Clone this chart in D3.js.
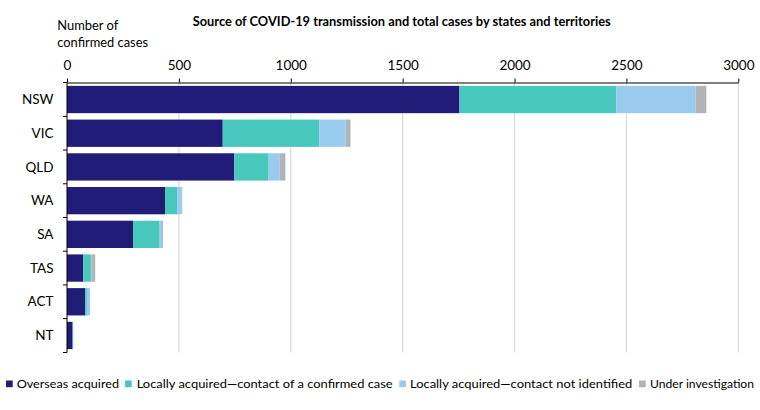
<!DOCTYPE html>
<html>
<head>
<meta charset="utf-8">
<script src="https://cdn.jsdelivr.net/npm/d3@7"></script>
<style>
  html, body { margin: 0; padding: 0; background: #fff; }
  svg { display: block; }
  text { font-family: Lato, "Open Sans", "DejaVu Sans", sans-serif; fill: #000; }
</style>
</head>
<body>
<svg id="chart" width="760" height="410"></svg>
<script>
const categories = ["NSW", "VIC", "QLD", "WA", "SA", "TAS", "ACT", "NT"];
const overseas = [1754, 696, 748, 438, 295, 73, 81, 25];
const contactConfirmed = [700, 431, 153, 54, 119, 34, 8, 2];
const contactNotIdentified = [355, 119, 50, 21, 11, 2, 14, 1];
const underInvestigation = [48, 21, 25, 2, 4, 17, 0, 0];
const seriesNames = ["Overseas acquired", "Locally acquired\u2014contact of a confirmed case", "Locally acquired\u2014contact not identified", "Under investigation"];
const seriesColors = ["#211c77", "#48c8bc", "#99cbee", "#b1b3b6"];
const xTickValues = [0, 500, 1000, 1500, 2000, 2500, 3000];
const titleText = "Source of COVID-19 transmission and total cases by states and territories";
const axisTitle = ["Number of", "confirmed cases"];

const keys = ["overseas", "contactConfirmed", "contactNotIdentified", "underInvestigation"];
const table = categories.map((c, i) => ({
  cat: c,
  overseas: overseas[i],
  contactConfirmed: contactConfirmed[i],
  contactNotIdentified: contactNotIdentified[i],
  underInvestigation: underInvestigation[i]
}));

const svg = d3.select("#chart");
const plotTop = 82.5, plotBottom = 352.5, plotLeft = 67, plotRight = 738.3;

const x = d3.scaleLinear().domain([0, 3000]).range([plotLeft, plotRight]);
const y = d3.scaleBand().domain(categories).range([plotTop, plotBottom]).paddingInner(0.19).paddingOuter(0.1);

// gridlines
svg.append("g").selectAll("line").data(xTickValues.filter(v => v > 0)).join("line")
  .attr("x1", d => x(d)).attr("x2", d => x(d))
  .attr("y1", plotTop).attr("y2", plotBottom)
  .attr("stroke", "#d9d9d9").attr("stroke-width", 1.2);

// stacked bars
const stacked = d3.stack().keys(keys)(table);
svg.append("g").selectAll("g").data(stacked).join("g")
  .attr("fill", (d, i) => seriesColors[i])
  .selectAll("rect").data(d => d).join("rect")
  .attr("x", d => x(d[0]))
  .attr("width", d => Math.max(0, x(d[1]) - x(d[0])))
  .attr("y", d => y(d.data.cat))
  .attr("height", y.bandwidth());

// top axis
const xAxis = d3.axisTop(x).tickValues(xTickValues).tickFormat(d3.format("d"))
  .tickSize(4).tickPadding(9).tickSizeOuter(0);
const gx = svg.append("g").attr("transform", `translate(0,${plotTop})`).call(xAxis);
gx.select(".domain").attr("stroke", "#000");
gx.selectAll(".tick line").attr("stroke", "#000");
gx.selectAll(".tick text").attr("font-size", 13.5).attr("font-family", "Lato, 'Open Sans', sans-serif").attr("fill", "#000");

// left axis line
svg.append("line").attr("x1", plotLeft).attr("x2", plotLeft).attr("y1", plotTop).attr("y2", plotBottom)
  .attr("stroke", "#000").attr("stroke-width", 1);

// category boundary ticks
const boundaries = categories.map(c => y(c) - y.step() * y.paddingInner() / 2);
boundaries[0] = plotTop;
boundaries.push(plotBottom);
svg.append("g").selectAll("line").data(boundaries).join("line")
  .attr("x1", plotLeft - 4).attr("x2", plotLeft)
  .attr("y1", d => d).attr("y2", d => d)
  .attr("stroke", "#000");

// category labels
svg.append("g").selectAll("text").data(categories).join("text")
  .attr("x", 53.5)
  .attr("y", d => y(d) + y.bandwidth() / 2)
  .attr("dy", "0.35em")
  .attr("text-anchor", "end")
  .attr("font-size", 13.5)
  .text(d => d);

// title
svg.append("text").attr("x", 401.7).attr("y", 25.7)
  .attr("text-anchor", "middle").attr("font-size", 13).attr("font-weight", "bold")
  .attr("textLength", 418).attr("lengthAdjust", "spacingAndGlyphs")
  .text(titleText);

// axis title
svg.append("text").attr("x", 57.3).attr("y", 30).attr("font-size", 13)
  .attr("textLength", 61).attr("lengthAdjust", "spacingAndGlyphs").text(axisTitle[0]);
svg.append("text").attr("x", 57.3).attr("y", 46.7).attr("font-size", 13)
  .attr("textLength", 90.7).attr("lengthAdjust", "spacingAndGlyphs").text(axisTitle[1]);

// legend
const legendX = [6, 125, 399.3, 639];
const legendTextX = [16.7, 136.7, 410, 650];
const legendTextW = [102.3, 256, 222.3, 104];
const lg = svg.append("g");
seriesNames.forEach((name, i) => {
  lg.append("rect").attr("x", legendX[i]).attr("y", 380.5).attr("width", 6.7).attr("height", 6.7)
    .attr("fill", seriesColors[i]);
  lg.append("text").attr("x", legendTextX[i]).attr("y", 387.7).attr("font-size", 12)
    .attr("textLength", legendTextW[i]).attr("lengthAdjust", "spacingAndGlyphs")
    .text(name);
});
</script>
</body>
</html>
